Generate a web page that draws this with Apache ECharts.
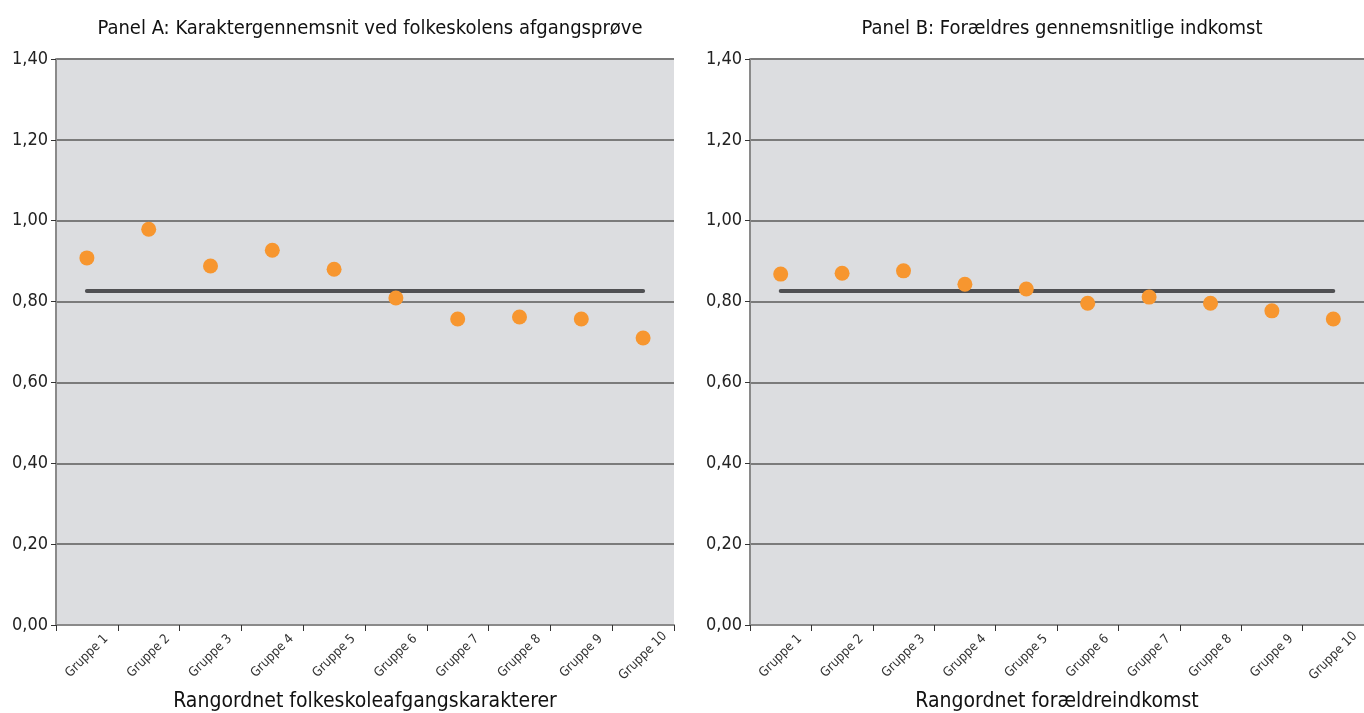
<!DOCTYPE html>
<html>
<head>
<meta charset="utf-8">
<script src="https://cdn.jsdelivr.net/npm/echarts@6/dist/echarts.min.js"></script>
<style>
html,body{margin:0;padding:0;background:#fff;}
#chart{width:1364px;height:713px;}
</style>
</head>
<body>
<div id="chart"></div>
<script>
var groups = ['Gruppe 1','Gruppe 2','Gruppe 3','Gruppe 4','Gruppe 5','Gruppe 6','Gruppe 7','Gruppe 8','Gruppe 9','Gruppe 10'];
var panelA = [0.908, 0.979, 0.888, 0.927, 0.880, 0.809, 0.757, 0.762, 0.757, 0.710];
var panelB = [0.868, 0.870, 0.876, 0.843, 0.831, 0.796, 0.811, 0.796, 0.777, 0.757];
var avgA = 0.826;
var avgB = 0.826;
var titles = ['Panel A: Karaktergennemsnit ved folkeskolens afgangsprøve', 'Panel B: Forældres gennemsnitlige indkomst'];
var xNames = ['Rangordnet folkeskoleafgangskarakterer', 'Rangordnet forældreindkomst'];

var font = '"Liberation Sans Narrow", "DejaVu Sans Condensed", sans-serif';
var chart = echarts.init(document.getElementById('chart'));

function fill(v, n){ var a=[]; for(var i=0;i<n;i++) a.push(v); return a; }

var grids = [
  {left:56, top:59, width:618, height:566},
  {left:750, top:59, width:614, height:566}
];

var option = {
  animation:false,
  title: titles.map(function(t, i){
    return {
      text:t, left: grids[i].left + grids[i].width/2, top:14, textAlign:'center',
      textStyle:{fontFamily:font, fontSize:20, fontWeight:'normal', color:'#111'}
    };
  }),
  grid: grids.map(function(g){
    return {left:g.left, top:g.top, width:g.width, height:g.height, show:true,
      containLabel:false, outerBoundsMode:'none',
      backgroundColor:'#dcdde0', borderWidth:0};
  }),
  xAxis: [0,1].map(function(i){
    return {
      type:'category', gridIndex:i, data:groups, boundaryGap:true,
      name:xNames[i], nameLocation:'middle', nameGap:66,
      nameTextStyle:{fontFamily:font, fontSize:21, color:'#111'},
      axisLine:{lineStyle:{color:'#8a8a8a', width:2}},
      axisTick:{show:true, length:6, alignWithLabel:false, lineStyle:{color:'#333', width:1}},
      axisLabel:{rotate:45, align:'center', verticalAlign:'middle', fontFamily:font, fontSize:13, color:'#333', margin:31},
      splitLine:{show:false}
    };
  }),
  yAxis: [0,1].map(function(i){
    return {
      type:'value', gridIndex:i, min:0, max:1.4, interval:0.2,
      axisLine:{show:true, lineStyle:{color:'#8a8a8a', width:2}},
      axisTick:{show:true, length:5, lineStyle:{color:'#333', width:1}},
      axisLabel:{fontFamily:font, fontSize:18, color:'#222', margin:8,
        formatter:function(v){ return v.toFixed(2).replace('.', ','); }},
      splitLine:{show:true, lineStyle:{color:'#7b7b7b', width:2}}
    };
  }),
  series: [
    {type:'line', xAxisIndex:0, yAxisIndex:0, data:fill(avgA, groups.length), symbol:'none',
      lineStyle:{color:'#505053', width:4, cap:'round'}, z:2},
    {type:'scatter', xAxisIndex:0, yAxisIndex:0, data:panelA, symbolSize:15,
      itemStyle:{color:'#f7962f', opacity:1}, z:3},
    {type:'line', xAxisIndex:1, yAxisIndex:1, data:fill(avgB, groups.length), symbol:'none',
      lineStyle:{color:'#505053', width:4, cap:'round'}, z:2},
    {type:'scatter', xAxisIndex:1, yAxisIndex:1, data:panelB, symbolSize:15,
      itemStyle:{color:'#f7962f', opacity:1}, z:3}
  ]
};
chart.setOption(option);
</script>
</body>
</html>
